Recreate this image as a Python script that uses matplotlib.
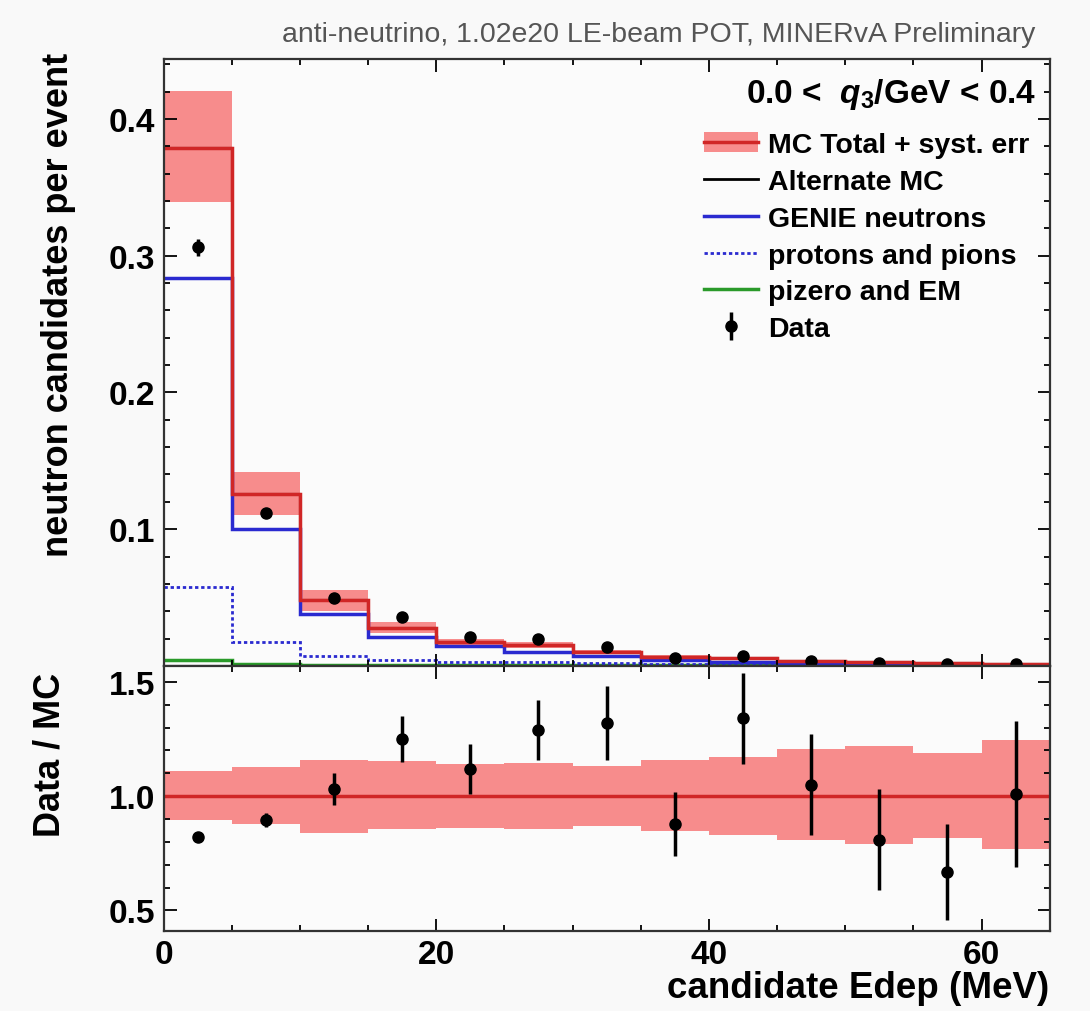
import numpy as np
import matplotlib.pyplot as plt
from matplotlib.ticker import MultipleLocator
from matplotlib.patches import Patch
from matplotlib.lines import Line2D

plt.rcParams['font.family'] = ['Liberation Sans', 'DejaVu Sans']
plt.rcParams['font.weight'] = 'bold'
plt.rcParams['mathtext.fontset'] = 'custom'
plt.rcParams['mathtext.rm'] = 'Liberation Sans:bold'
plt.rcParams['mathtext.it'] = 'Liberation Sans:bold:italic'
plt.rcParams['mathtext.bf'] = 'Liberation Sans:bold'

# bin edges in MeV
edges = [0, 5, 10, 15, 20, 25, 30, 35, 40, 45, 50, 55, 60, 65]

# neutron candidates per event
mc_total = [0.379, 0.126, 0.048, 0.028, 0.0175, 0.0150, 0.0105, 0.0068, 0.0055, 0.0036, 0.0026, 0.0020, 0.0016]
alt_mc = [0.379, 0.126, 0.048, 0.028, 0.0175, 0.0150, 0.0105, 0.0068, 0.0055, 0.0036, 0.0026, 0.0020, 0.0016]
genie_neutrons = [0.284, 0.100, 0.038, 0.021, 0.0146, 0.0100, 0.0073, 0.0040, 0.0032, 0.0022, 0.0016, 0.0012, 0.0010]
protons_pions = [0.058, 0.0175, 0.0073, 0.0040, 0.0030, 0.0025, 0.0020, 0.0015, 0.0010, 0.0008, 0.0006, 0.0005, 0.0004]
pizero_em = [0.0045, 0.0015, 0.0010, 0.0008, 0.0006, 0.0005, 0.0004, 0.0003, 0.0003, 0.0002, 0.0002, 0.0001, 0.0001]
data = [0.306, 0.112, 0.050, 0.036, 0.021, 0.0195, 0.0139, 0.0060, 0.0074, 0.0038, 0.0021, 0.0013, 0.0016]
data_err = [0.006, 0.003, 0.0025, 0.002, 0.0018, 0.0018, 0.0016, 0.0012, 0.0012, 0.0009, 0.0007, 0.0006, 0.0006]

# ratio panel
ratio = [0.82, 0.895, 1.03, 1.25, 1.12, 1.29, 1.32, 0.88, 1.34, 1.05, 0.81, 0.67, 1.01]
ratio_err = [0.01, 0.03, 0.07, 0.10, 0.11, 0.13, 0.16, 0.14, 0.20, 0.22, 0.22, 0.21, 0.32]
syst_hi = [0.11, 0.127, 0.158, 0.153, 0.14, 0.145, 0.13, 0.16, 0.17, 0.205, 0.22, 0.19, 0.245]
syst_lo = [0.105, 0.123, 0.16, 0.145, 0.14, 0.145, 0.13, 0.154, 0.17, 0.193, 0.21, 0.184, 0.23]

centers = [(a + b) / 2 for a, b in zip(edges[:-1], edges[1:])]
mc = np.array(mc_total)
band_hi = mc * (1 + np.array(syst_hi))
band_lo = mc * (1 - np.array(syst_lo))

red = '#d02626'
band = '#f78c8c'
blue = '#2a2ad0'
green = '#2a9a2a'
dots = (0, (1.2, 1))

fig = plt.figure(figsize=(10.9, 10.12), dpi=100, facecolor='#f9f9f9')
ax = fig.add_axes([0.150, 0.341, 0.813, 0.600])
axr = fig.add_axes([0.150, 0.079, 0.813, 0.262], sharex=ax)

for a in (ax, axr):
    a.set_facecolor('#fbfbfb')

# top panel
ax.stairs(band_hi, edges, baseline=band_lo, fill=True, color=band, lw=0)
ax.stairs(alt_mc, edges, baseline=None, color='black', lw=1.5)
ax.stairs(pizero_em, edges, baseline=None, color=green, lw=2.5)
ax.stairs(protons_pions, edges, baseline=None, color=blue, lw=2, ls=dots)
ax.stairs(genie_neutrons, edges, baseline=None, color=blue, lw=2.5)
ax.stairs(mc_total, edges, baseline=None, color=red, lw=2.5)
eb = ax.errorbar(centers, data, yerr=data_err, fmt='o', color='black', ms=8, elinewidth=2.5, capsize=0)

ax.set_xlim(0, 65)
ax.set_ylim(0, 0.444)
ax.set_ylabel('neutron candidates per event', fontsize=26, fontweight='bold')
ax.yaxis.set_label_coords(-0.099, 0.596)
ax.set_yticks([0.1, 0.2, 0.3, 0.4])
ax.yaxis.set_minor_locator(MultipleLocator(0.02))
ax.tick_params(labelbottom=False)

ax.text(0.985, 0.972, r'0.0 <  $q_3$/GeV < 0.4', transform=ax.transAxes,
        ha='right', va='top', fontsize=24, fontweight='bold')

handles = [
    (Patch(facecolor=band, edgecolor='none'), Line2D([], [], color=red, lw=2.5)),
    Line2D([], [], color='black', lw=2),
    Line2D([], [], color=blue, lw=2.5),
    Line2D([], [], color=blue, lw=2, ls=dots),
    Line2D([], [], color=green, lw=2.5),
    eb,
]
labels = ['MC Total + syst. err', 'Alternate MC', 'GENIE neutrons',
          'protons and pions', 'pizero and EM', 'Data']
ax.legend(handles, labels, loc='upper right', bbox_to_anchor=(1.0, 0.912), frameon=False,
          handlelength=1.9, handletextpad=0.36, labelspacing=0.38, borderpad=0.2,
          prop={'weight': 'bold', 'size': 20.5})

# ratio panel
axr.stairs(1 + np.array(syst_hi), edges, baseline=1 - np.array(syst_lo), fill=True, color=band, lw=0)
axr.axhline(1.0, color=red, lw=2.5)
axr.errorbar(centers, ratio, yerr=ratio_err, fmt='o', color='black', ms=8, elinewidth=2.5, capsize=0)
axr.set_ylim(0.41, 1.57)
axr.set_ylabel('Data / MC', fontsize=26, fontweight='bold')
axr.yaxis.set_label_coords(-0.108, 0.668)
axr.yaxis.set_major_locator(MultipleLocator(0.5))
axr.yaxis.set_minor_locator(MultipleLocator(0.1))
axr.set_xlabel('candidate Edep (MeV)', fontsize=26.5, fontweight='bold', loc='right', labelpad=0)
axr.xaxis.set_major_locator(MultipleLocator(20))
axr.xaxis.set_minor_locator(MultipleLocator(5))

for a in (ax, axr):
    a.tick_params(which='both', direction='in', top=True, right=True, labelsize=24, width=1.3)
    a.tick_params(which='major', length=9, pad=6)
    a.tick_params(which='minor', length=4.5)
    for s in a.spines.values():
        s.set_linewidth(1.6)
        s.set_color('#333333')

fig.text(0.950, 0.953, 'anti-neutrino, 1.02e20 LE-beam POT, MINERvA Preliminary',
         ha='right', va='bottom', fontsize=20.5, fontweight='normal', color='#555555')

fig.savefig('out.png', dpi=100, facecolor=fig.get_facecolor())
